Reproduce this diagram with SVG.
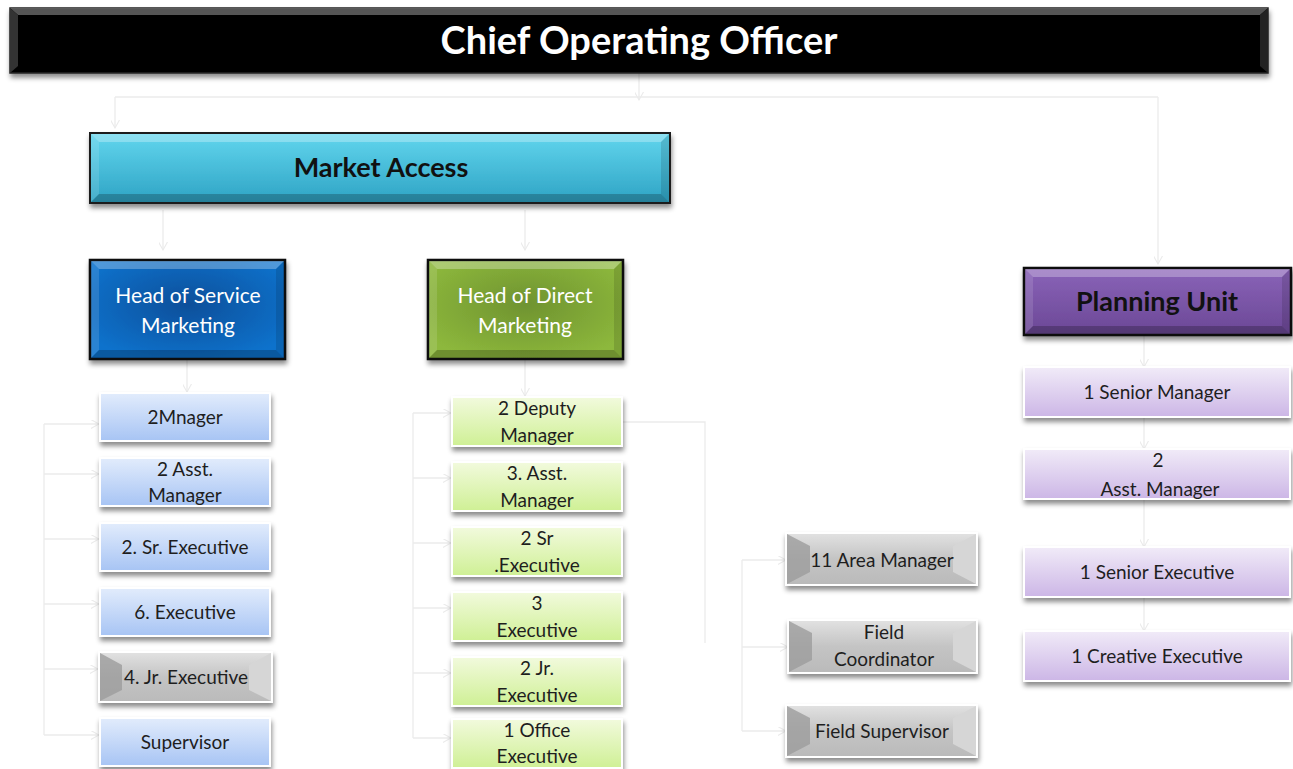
<svg xmlns="http://www.w3.org/2000/svg" width="1293" height="769" viewBox="0 0 1293 769">
<style>
text{font-family:Lato,"Open Sans","Liberation Sans",sans-serif;text-anchor:middle}
.t{font-size:19px;fill:#1e1e1e}
.h{font-size:21px;fill:#ffffff}
.b{font-size:27px;font-weight:bold;fill:#111}
.c{stroke:#ebebeb;stroke-width:1.3;fill:none}
.ca{stroke:#ebebeb;stroke-width:1.3;fill:none;marker-end:url(#ar)}
.lb{fill:url(#gBlue);stroke:#fff;stroke-width:2}
.lg{fill:url(#gGreen);stroke:#fff;stroke-width:2}
.lp{fill:url(#gPurple);stroke:#fff;stroke-width:2}
.hi{fill:#fff;opacity:.28}
.hs{fill:#fff;opacity:.12}
.dk{fill:#000;opacity:.12}
.dd{fill:#000;opacity:.22}
</style>
<defs>
<filter id="sh" x="-10%" y="-20%" width="120%" height="150%">
<feDropShadow dx="1" dy="4" stdDeviation="2.5" flood-color="#000" flood-opacity="0.45"/>
</filter>
<linearGradient id="gBlue" x1="0" y1="0" x2="0" y2="1"><stop offset="0" stop-color="#e2ecfc"/><stop offset="1" stop-color="#a7c4f4"/></linearGradient>
<linearGradient id="gGreen" x1="0" y1="0" x2="0" y2="1"><stop offset="0" stop-color="#f2fadd"/><stop offset="1" stop-color="#cff095"/></linearGradient>
<linearGradient id="gPurple" x1="0" y1="0" x2="0" y2="1"><stop offset="0" stop-color="#f1ebf8"/><stop offset="1" stop-color="#ccb6e6"/></linearGradient>
<linearGradient id="gCyan" x1="0" y1="0" x2="0" y2="1"><stop offset="0" stop-color="#62d6ee"/><stop offset="1" stop-color="#2ea3c4"/></linearGradient>
<radialGradient id="gHS" cx="0.5" cy="0.45" r="0.6"><stop offset="0" stop-color="#0a4f9a"/><stop offset="1" stop-color="#0b72cc"/></radialGradient>
<radialGradient id="gHD" cx="0.5" cy="0.45" r="0.6"><stop offset="0" stop-color="#6f9330"/><stop offset="1" stop-color="#8db83c"/></radialGradient>
<linearGradient id="gPU" x1="0" y1="0" x2="0" y2="1"><stop offset="0" stop-color="#8a63b8"/><stop offset="1" stop-color="#6b4896"/></linearGradient>
<linearGradient id="gGray" x1="0" y1="0" x2="0" y2="1"><stop offset="0" stop-color="#e2e2e2"/><stop offset="0.5" stop-color="#c4c4c4"/><stop offset="1" stop-color="#bababa"/></linearGradient>
<marker id="ar" viewBox="0 0 10 10" refX="9" refY="5" markerWidth="9" markerHeight="9" orient="auto" markerUnits="userSpaceOnUse">
<path d="M0,0 L9,5 L0,10" fill="none" stroke="#ebebeb" stroke-width="1.2"/>
</marker>
</defs>

<g id="connectors">
<path class="ca" d="M639,73 V100"/>
<path class="c" d="M115,97 H1158"/>
<path class="ca" d="M115,97 V128"/>
<path class="ca" d="M1158,97 V264"/>
<path class="ca" d="M163,210 V250"/>
<path class="ca" d="M525,210 V250"/>
<path class="ca" d="M187,359 V392"/>
<path class="ca" d="M525,359 V396"/>
<path class="c" d="M44,424 V735"/>
<path class="ca" d="M44,424 H99"/>
<path class="ca" d="M44,474 H99"/>
<path class="ca" d="M44,539 H99"/>
<path class="ca" d="M44,604 H99"/>
<path class="ca" d="M44,669 H98"/>
<path class="ca" d="M44,735 H99"/>
<path class="c" d="M413,413 V738"/>
<path class="ca" d="M413,413 H451"/>
<path class="ca" d="M413,478 H451"/>
<path class="ca" d="M413,543 H451"/>
<path class="ca" d="M413,608 H451"/>
<path class="ca" d="M413,673 H451"/>
<path class="ca" d="M413,738 H451"/>
<path class="c" d="M623,422 H705 V643"/>
<path class="c" d="M742,560 V731"/>
<path class="ca" d="M742,560 H786"/>
<path class="ca" d="M742,647 H788"/>
<path class="ca" d="M742,731 H786"/>
<path class="ca" d="M1144,335 V367"/>
<path class="ca" d="M1144,417 V449"/>
<path class="ca" d="M1144,499 V547"/>
<path class="ca" d="M1144,597 V631"/>
</g>

<g id="coo">
<rect x="10" y="8" width="1258" height="65" fill="#050505" stroke="#222" stroke-width="1.5" filter="url(#sh)"/>
<polygon points="10,8 1268,8 1260,15 18,15" fill="#6a6a6a" opacity="0.8"/>
<polygon points="10,8 18,15 18,66 10,73" fill="#333"/>
<polygon points="1268,8 1260,15 1260,66 1268,73" fill="#222"/>
<text x="639" y="54" style="font-size:38px;font-weight:bold;fill:#fff">Chief Operating Officer</text>
</g>

<g id="market-access">
<rect x="90" y="133" width="580" height="70" fill="url(#gCyan)" stroke="#1a1a1a" stroke-width="2" filter="url(#sh)"/>
<polygon class="hi" points="91,134 669,134 661,142 99,142"/>
<polygon class="hs" points="91,134 99,142 99,194 91,202"/>
<polygon class="dk" points="669,134 661,142 661,194 669,202"/>
<polygon class="dd" points="91,202 99,194 661,194 669,202"/>
<text class="b" x="381" y="177">Market Access</text>
</g>

<g id="head-service">
<rect x="90" y="260" width="195" height="99" fill="url(#gHS)" stroke="#111" stroke-width="2.5" filter="url(#sh)"/>
<polygon class="hi" points="91,261 284,261 276,269 99,269"/>
<polygon class="hs" points="91,261 99,269 99,350 91,358"/>
<polygon class="dk" points="284,261 276,269 276,350 284,358"/>
<polygon class="dd" points="91,358 99,350 276,350 284,358"/>
<text class="h" x="188" y="303">Head of Service</text>
<text class="h" x="188" y="333">Marketing</text>
</g>

<g id="head-direct">
<rect x="428" y="260" width="195" height="99" fill="url(#gHD)" stroke="#111" stroke-width="2.5" filter="url(#sh)"/>
<polygon class="hi" points="429,261 622,261 614,269 437,269"/>
<polygon class="hs" points="429,261 437,269 437,350 429,358"/>
<polygon class="dk" points="622,261 614,269 614,350 622,358"/>
<polygon class="dd" points="429,358 437,350 614,350 622,358"/>
<text class="h" x="525" y="303">Head of Direct</text>
<text class="h" x="525" y="333">Marketing</text>
</g>

<g id="planning-unit">
<rect x="1024" y="268" width="267" height="67" fill="url(#gPU)" stroke="#111" stroke-width="2.5" filter="url(#sh)"/>
<polygon class="hi" points="1025,269 1290,269 1282,277 1033,277"/>
<polygon class="hs" points="1025,269 1033,277 1033,326 1025,334"/>
<polygon class="dk" points="1290,269 1282,277 1282,326 1290,334"/>
<polygon class="dd" points="1025,334 1033,326 1282,326 1290,334"/>
<text class="b" x="1157" y="311">Planning Unit</text>
</g>

<g id="s-manager"><rect class="lb" x="100" y="393" width="170" height="48" filter="url(#sh)"/><text class="t" x="185" y="424">2Mnager</text></g>
<g id="s-asst-manager"><rect class="lb" x="100" y="458" width="170" height="48" filter="url(#sh)"/><text class="t" x="185" y="476">2 Asst.</text><text class="t" x="185" y="502">Manager</text></g>
<g id="s-sr-exec"><rect class="lb" x="100" y="523" width="170" height="48" filter="url(#sh)"/><text class="t" x="185" y="554">2. Sr. Executive</text></g>
<g id="s-exec"><rect class="lb" x="100" y="588" width="170" height="48" filter="url(#sh)"/><text class="t" x="185" y="619">6. Executive</text></g>
<g id="s-jr-exec">
<rect x="99" y="652" width="173" height="50" fill="url(#gGray)" stroke="#fff" stroke-width="2" filter="url(#sh)"/>
<polygon points="100,653 100,701 122,690 122,665" fill="#9c9c9c" opacity="0.8"/>
<polygon points="271,653 271,701 249,690 249,665" fill="#d6d6d6"/>
<text class="t" x="186" y="684">4. Jr. Executive</text>
</g>
<g id="s-supervisor"><rect class="lb" x="100" y="718" width="170" height="48" filter="url(#sh)"/><text class="t" x="185" y="749">Supervisor</text></g>

<g id="d-deputy"><rect class="lg" x="452" y="397" width="170" height="49" filter="url(#sh)"/><text class="t" x="537" y="415">2 Deputy</text><text class="t" x="537" y="442">Manager</text></g>
<g id="d-asst"><rect class="lg" x="452" y="462" width="170" height="49" filter="url(#sh)"/><text class="t" x="537" y="480">3. Asst.</text><text class="t" x="537" y="507">Manager</text></g>
<g id="d-sr-exec"><rect class="lg" x="452" y="527" width="170" height="49" filter="url(#sh)"/><text class="t" x="537" y="545">2 Sr</text><text class="t" x="537" y="572">.Executive</text></g>
<g id="d-exec"><rect class="lg" x="452" y="592" width="170" height="49" filter="url(#sh)"/><text class="t" x="537" y="610">3</text><text class="t" x="537" y="637">Executive</text></g>
<g id="d-jr-exec"><rect class="lg" x="452" y="657" width="170" height="49" filter="url(#sh)"/><text class="t" x="537" y="675">2 Jr.</text><text class="t" x="537" y="702">Executive</text></g>
<g id="d-office-exec"><rect class="lg" x="452" y="719" width="170" height="49" filter="url(#sh)"/><text class="t" x="537" y="737">1 Office</text><text class="t" x="537" y="763">Executive</text></g>

<g id="area-manager">
<rect x="786" y="533" width="191" height="52" fill="url(#gGray)" stroke="#fff" stroke-width="2" filter="url(#sh)"/>
<polygon points="787,534 787,584 810,572 810,546" fill="#9c9c9c" opacity="0.8"/>
<polygon points="976,534 976,584 953,572 953,546" fill="#d6d6d6"/>
<text class="t" x="882" y="567">11 Area Manager</text>
</g>
<g id="field-coordinator">
<rect x="788" y="620" width="189" height="53" fill="url(#gGray)" stroke="#fff" stroke-width="2" filter="url(#sh)"/>
<polygon points="789,621 789,672 812,660 812,633" fill="#9c9c9c" opacity="0.8"/>
<polygon points="976,621 976,672 953,660 953,633" fill="#d6d6d6"/>
<text class="t" x="884" y="639">Field</text>
<text class="t" x="884" y="666">Coordinator</text>
</g>
<g id="field-supervisor">
<rect x="786" y="705" width="191" height="52" fill="url(#gGray)" stroke="#fff" stroke-width="2" filter="url(#sh)"/>
<polygon points="787,706 787,756 810,744 810,718" fill="#9c9c9c" opacity="0.8"/>
<polygon points="976,706 976,756 953,744 953,718" fill="#d6d6d6"/>
<text class="t" x="882" y="738">Field Supervisor</text>
</g>

<g id="p-senior-manager"><rect class="lp" x="1024" y="367" width="266" height="50" filter="url(#sh)"/><text class="t" x="1157" y="399">1 Senior Manager</text></g>
<g id="p-asst-manager"><rect class="lp" x="1024" y="449" width="266" height="50" filter="url(#sh)"/><text class="t" x="1158" y="467">2</text><text class="t" x="1160" y="496">Asst. Manager</text></g>
<g id="p-senior-exec"><rect class="lp" x="1024" y="547" width="266" height="50" filter="url(#sh)"/><text class="t" x="1157" y="579">1 Senior Executive</text></g>
<g id="p-creative-exec"><rect class="lp" x="1024" y="631" width="266" height="50" filter="url(#sh)"/><text class="t" x="1157" y="663">1 Creative Executive</text></g>
</svg>
